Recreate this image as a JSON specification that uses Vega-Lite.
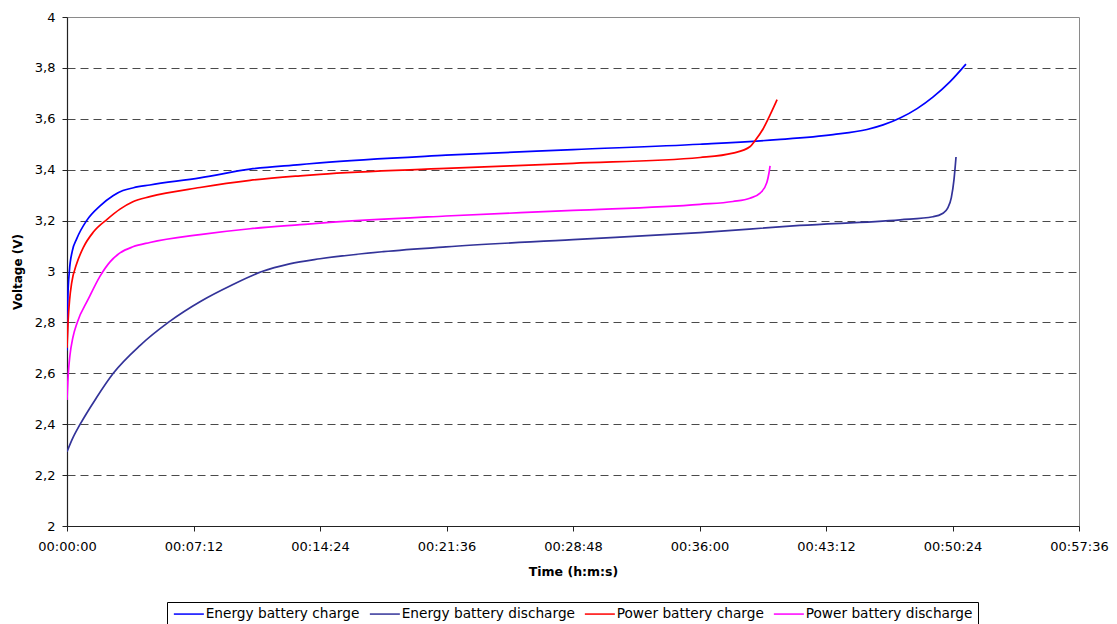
{
  "$schema": "https://vega.github.io/schema/vega-lite/v6.json",
  "autosize": "none",
  "width": 1012,
  "height": 509,
  "padding": {"left": 67, "top": 17, "right": 38, "bottom": 98},
  "background": "white",
  "config": {
    "font": "DejaVu Sans",
    "view": {"stroke": "#8a8a8a", "strokeWidth": 1}
  },
  "datasets": {
    "curves": [
      {"series": "Energy battery charge", "t": 0, "v": 2.69},
      {"series": "Energy battery charge", "t": 3, "v": 2.9},
      {"series": "Energy battery charge", "t": 8, "v": 3.0},
      {"series": "Energy battery charge", "t": 18, "v": 3.08},
      {"series": "Energy battery charge", "t": 33, "v": 3.128},
      {"series": "Energy battery charge", "t": 67, "v": 3.2},
      {"series": "Energy battery charge", "t": 113, "v": 3.258},
      {"series": "Energy battery charge", "t": 157, "v": 3.298},
      {"series": "Energy battery charge", "t": 191, "v": 3.318},
      {"series": "Energy battery charge", "t": 227, "v": 3.329},
      {"series": "Energy battery charge", "t": 283, "v": 3.34},
      {"series": "Energy battery charge", "t": 454, "v": 3.368},
      {"series": "Energy battery charge", "t": 625, "v": 3.402},
      {"series": "Energy battery charge", "t": 796, "v": 3.42},
      {"series": "Energy battery charge", "t": 864, "v": 3.427},
      {"series": "Energy battery charge", "t": 1294, "v": 3.457},
      {"series": "Energy battery charge", "t": 1728, "v": 3.479},
      {"series": "Energy battery charge", "t": 2162, "v": 3.5},
      {"series": "Energy battery charge", "t": 2425, "v": 3.518},
      {"series": "Energy battery charge", "t": 2616, "v": 3.538},
      {"series": "Energy battery charge", "t": 2732, "v": 3.558},
      {"series": "Energy battery charge", "t": 2787, "v": 3.576},
      {"series": "Energy battery charge", "t": 2845, "v": 3.603},
      {"series": "Energy battery charge", "t": 2903, "v": 3.64},
      {"series": "Energy battery charge", "t": 2957, "v": 3.685},
      {"series": "Energy battery charge", "t": 3015, "v": 3.745},
      {"series": "Energy battery charge", "t": 3070, "v": 3.815},

      {"series": "Energy battery discharge", "t": 0, "v": 2.292},
      {"series": "Energy battery discharge", "t": 20, "v": 2.346},
      {"series": "Energy battery discharge", "t": 45, "v": 2.4},
      {"series": "Energy battery discharge", "t": 100, "v": 2.503},
      {"series": "Energy battery discharge", "t": 158, "v": 2.6},
      {"series": "Energy battery discharge", "t": 250, "v": 2.71},
      {"series": "Energy battery discharge", "t": 346, "v": 2.8},
      {"series": "Energy battery discharge", "t": 460, "v": 2.885},
      {"series": "Energy battery discharge", "t": 560, "v": 2.945},
      {"series": "Energy battery discharge", "t": 666, "v": 3.0},
      {"series": "Energy battery discharge", "t": 760, "v": 3.03},
      {"series": "Energy battery discharge", "t": 864, "v": 3.05},
      {"series": "Energy battery discharge", "t": 1080, "v": 3.078},
      {"series": "Energy battery discharge", "t": 1294, "v": 3.097},
      {"series": "Energy battery discharge", "t": 1728, "v": 3.125},
      {"series": "Energy battery discharge", "t": 2162, "v": 3.153},
      {"series": "Energy battery discharge", "t": 2503, "v": 3.181},
      {"series": "Energy battery discharge", "t": 2845, "v": 3.203},
      {"series": "Energy battery discharge", "t": 2957, "v": 3.215},
      {"series": "Energy battery discharge", "t": 2990, "v": 3.228},
      {"series": "Energy battery discharge", "t": 3007, "v": 3.248},
      {"series": "Energy battery discharge", "t": 3020, "v": 3.29},
      {"series": "Energy battery discharge", "t": 3029, "v": 3.36},
      {"series": "Energy battery discharge", "t": 3036, "v": 3.45},

      {"series": "Power battery charge", "t": 0, "v": 2.7},
      {"series": "Power battery charge", "t": 4, "v": 2.81},
      {"series": "Power battery charge", "t": 9, "v": 2.89},
      {"series": "Power battery charge", "t": 16, "v": 2.955},
      {"series": "Power battery charge", "t": 33, "v": 3.03},
      {"series": "Power battery charge", "t": 56, "v": 3.095},
      {"series": "Power battery charge", "t": 90, "v": 3.155},
      {"series": "Power battery charge", "t": 137, "v": 3.205},
      {"series": "Power battery charge", "t": 181, "v": 3.245},
      {"series": "Power battery charge", "t": 225, "v": 3.274},
      {"series": "Power battery charge", "t": 283, "v": 3.294},
      {"series": "Power battery charge", "t": 454, "v": 3.33},
      {"series": "Power battery charge", "t": 625, "v": 3.358},
      {"series": "Power battery charge", "t": 796, "v": 3.376},
      {"series": "Power battery charge", "t": 864, "v": 3.382},
      {"series": "Power battery charge", "t": 1294, "v": 3.405},
      {"series": "Power battery charge", "t": 1728, "v": 3.425},
      {"series": "Power battery charge", "t": 2162, "v": 3.448},
      {"series": "Power battery charge", "t": 2274, "v": 3.465},
      {"series": "Power battery charge", "t": 2332, "v": 3.49},
      {"series": "Power battery charge", "t": 2350, "v": 3.515},
      {"series": "Power battery charge", "t": 2377, "v": 3.56},
      {"series": "Power battery charge", "t": 2401, "v": 3.615},
      {"series": "Power battery charge", "t": 2425, "v": 3.675},

      {"series": "Power battery discharge", "t": 0, "v": 2.495},
      {"series": "Power battery discharge", "t": 4.5, "v": 2.6},
      {"series": "Power battery discharge", "t": 10, "v": 2.67},
      {"series": "Power battery discharge", "t": 20, "v": 2.74},
      {"series": "Power battery discharge", "t": 35, "v": 2.8},
      {"series": "Power battery discharge", "t": 72, "v": 2.89},
      {"series": "Power battery discharge", "t": 113, "v": 2.982},
      {"series": "Power battery discharge", "t": 147, "v": 3.038},
      {"series": "Power battery discharge", "t": 181, "v": 3.073},
      {"series": "Power battery discharge", "t": 225, "v": 3.097},
      {"series": "Power battery discharge", "t": 283, "v": 3.114},
      {"series": "Power battery discharge", "t": 454, "v": 3.145},
      {"series": "Power battery discharge", "t": 625, "v": 3.168},
      {"series": "Power battery discharge", "t": 796, "v": 3.184},
      {"series": "Power battery discharge", "t": 864, "v": 3.19},
      {"series": "Power battery discharge", "t": 1294, "v": 3.218},
      {"series": "Power battery discharge", "t": 1728, "v": 3.24},
      {"series": "Power battery discharge", "t": 2162, "v": 3.264},
      {"series": "Power battery discharge", "t": 2274, "v": 3.275},
      {"series": "Power battery discharge", "t": 2332, "v": 3.288},
      {"series": "Power battery discharge", "t": 2367, "v": 3.308},
      {"series": "Power battery discharge", "t": 2390, "v": 3.35},
      {"series": "Power battery discharge", "t": 2397, "v": 3.385},
      {"series": "Power battery discharge", "t": 2401, "v": 3.415}
    ]
  },
  "data": {"name": "curves"},
  "mark": {"type": "line", "interpolate": "monotone", "strokeWidth": 1.7, "clip": true},
  "encoding": {
    "x": {
      "field": "t",
      "type": "quantitative",
      "scale": {"domain": [0, 3456], "nice": false, "zero": false},
      "axis": {
        "values": [0, 432, 864, 1296, 1728, 2160, 2592, 3024, 3456],
        "labelExpr": "utcFormat(datum.value * 1000, '%H:%M:%S')",
        "grid": false,
        "domainColor": "#222222",
        "domainWidth": 1.2,
        "tickColor": "#222222",
        "tickSize": 5,
        "labelFont": "DejaVu Sans",
        "labelFontSize": 13,
        "labelColor": "black",
        "labelPadding": 9,
        "labelFlush": false,
        "labelOverlap": false,
        "title": "Time (h:m:s)",
        "titleFont": "DejaVu Sans",
        "titleFontSize": 12.5,
        "titleFontWeight": "bold",
        "titleColor": "black",
        "titlePadding": 12
      }
    },
    "y": {
      "field": "v",
      "type": "quantitative",
      "scale": {"domain": [2, 4], "nice": false, "zero": false},
      "axis": {
        "values": [2, 2.2, 2.4, 2.6, 2.8, 3, 3.2, 3.4, 3.6, 3.8, 4],
        "labelExpr": "replace(format(datum.value, '.1~f'), '.', ',')",
        "grid": true,
        "gridDash": [8, 5],
        "gridColor": "#4a4a4a",
        "gridWidth": 1,
        "gridOpacity": {"condition": {"test": "datum.value <= 2.01 || datum.value >= 3.99", "value": 0}, "value": 1},
        "domainColor": "#222222",
        "domainWidth": 1.2,
        "tickColor": "#222222",
        "tickSize": 5,
        "labelFont": "DejaVu Sans",
        "labelFontSize": 13,
        "labelColor": "black",
        "labelPadding": 7,
        "labelOverlap": false,
        "title": "Voltage (V)",
        "titleFont": "DejaVu Sans",
        "titleFontSize": 12,
        "titleFontWeight": "bold",
        "titleColor": "black",
        "titlePadding": 10
      }
    },
    "color": {
      "field": "series",
      "type": "nominal",
      "scale": {
        "domain": ["Energy battery charge", "Energy battery discharge", "Power battery charge", "Power battery discharge"],
        "range": ["#0000FF", "#333399", "#FF0000", "#FF00FF"]
      },
      "legend": {
        "orient": "none",
        "legendX": 100,
        "legendY": 585,
        "direction": "horizontal",
        "columns": 4,
        "title": null,
        "symbolType": "M-1,0H5",
        "symbolSize": 100,
        "symbolStrokeWidth": 1.5,
        "labelFont": "DejaVu Sans",
        "labelFontSize": 13.7,
        "labelColor": "black",
        "labelOffset": 20,
        "labelLimit": 400,
        "columnPadding": 6,
        "padding": 5,
        "strokeColor": "black",
        "fillColor": "white"
      }
    }
  }
}
